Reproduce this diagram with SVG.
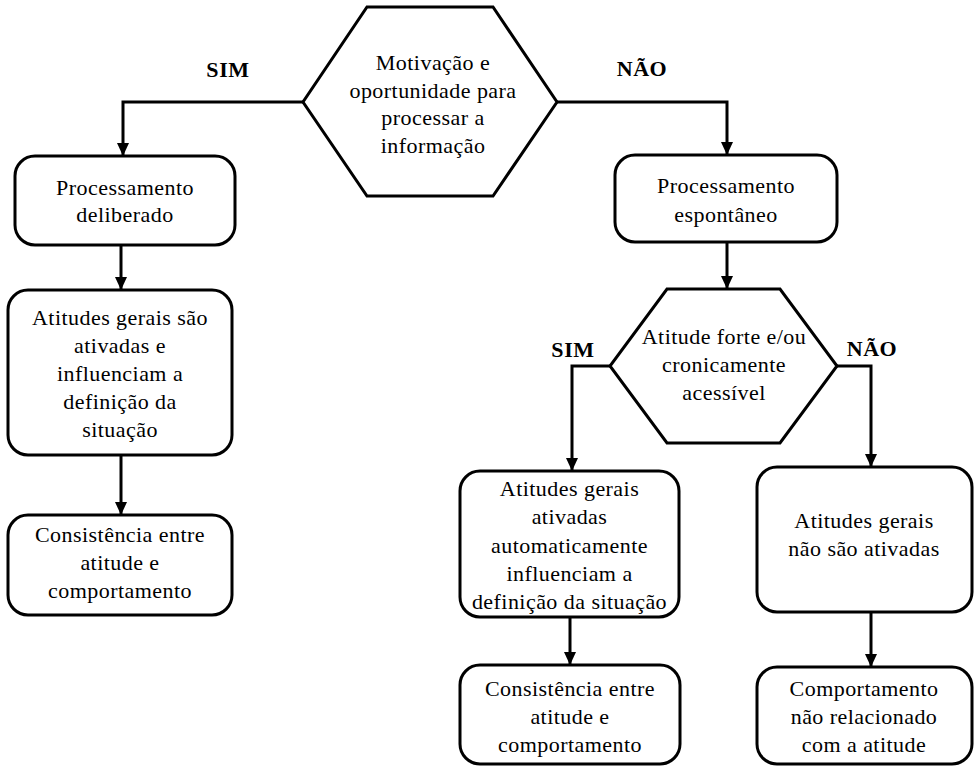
<svg xmlns="http://www.w3.org/2000/svg" width="979" height="767" viewBox="0 0 979 767">
  <defs>
    <marker id="arrow" markerUnits="userSpaceOnUse" markerWidth="14" markerHeight="12" refX="13" refY="6" orient="auto">
      <path d="M0,0 L13,6 L0,12 z" fill="#000"/>
    </marker>
    <style>
      .shape { fill: #fff; stroke: #000; stroke-width: 3; }
      .link { fill: none; stroke: #000; stroke-width: 3; marker-end: url(#arrow); }
      .txt { font-family: "Liberation Serif", "Times New Roman", serif; font-size: 22px; letter-spacing: 0.45px; fill: #000; text-anchor: middle; }
      .lbl { font-family: "Liberation Serif", "Times New Roman", serif; font-size: 22px; font-weight: bold; letter-spacing: 0.6px; fill: #000; text-anchor: middle; }
    </style>
  </defs>
  <rect width="979" height="767" fill="#fff"/>

  <!-- connectors -->
  <g id="connectors">
    <path class="link" d="M303,102 H123 V156"/>
    <path class="link" d="M557,102 H727 V155"/>
    <path class="link" d="M121,245 V290"/>
    <path class="link" d="M121,455 V515"/>
    <path class="link" d="M727,242 V289"/>
    <path class="link" d="M610,366 H572 V471"/>
    <path class="link" d="M837,366 H871 V467"/>
    <path class="link" d="M570,617 V665"/>
    <path class="link" d="M871,612 V667"/>
  </g>

  <!-- branch labels -->
  <g id="labels">
    <text class="lbl" x="228" y="77">SIM</text>
    <text class="lbl" x="642" y="76">NÃO</text>
    <text class="lbl" x="573" y="357">SIM</text>
    <text class="lbl" x="872" y="356">NÃO</text>
  </g>

  <!-- decision: motivation and opportunity -->
  <g id="decision-motivation">
    <polygon class="shape" points="367,7 493,7 557,102 493,196 367,196 303,102"/>
    <text class="txt" x="433" y="70">Motivação e</text>
    <text class="txt" x="433" y="97.5">oportunidade para</text>
    <text class="txt" x="433" y="125">processar a</text>
    <text class="txt" x="433" y="152.5">informação</text>
  </g>

  <!-- left branch -->
  <g id="deliberate-processing">
    <rect class="shape" x="15" y="156" width="220" height="89" rx="20"/>
    <text class="txt" x="125" y="195">Processamento</text>
    <text class="txt" x="125" y="222">deliberado</text>
  </g>
  <g id="attitudes-activated">
    <rect class="shape" x="8" y="290" width="224" height="165" rx="20"/>
    <text class="txt" x="120" y="325">Atitudes gerais são</text>
    <text class="txt" x="120" y="353">ativadas e</text>
    <text class="txt" x="120" y="381">influenciam a</text>
    <text class="txt" x="120" y="409">definição da</text>
    <text class="txt" x="120" y="437">situação</text>
  </g>
  <g id="consistency-left">
    <rect class="shape" x="8" y="515" width="224" height="100" rx="20"/>
    <text class="txt" x="120" y="542">Consistência entre</text>
    <text class="txt" x="120" y="570">atitude e</text>
    <text class="txt" x="120" y="598">comportamento</text>
  </g>

  <!-- right branch -->
  <g id="spontaneous-processing">
    <rect class="shape" x="615" y="155" width="222" height="87" rx="20"/>
    <text class="txt" x="726" y="193">Processamento</text>
    <text class="txt" x="726" y="222">espontâneo</text>
  </g>
  <g id="decision-strength">
    <polygon class="shape" points="667,289 780,289 837,366 780,443 667,443 610,366"/>
    <text class="txt" x="724" y="344">Atitude forte e/ou</text>
    <text class="txt" x="724" y="372">cronicamente</text>
    <text class="txt" x="724" y="400">acessível</text>
  </g>
  <g id="attitudes-automatic">
    <rect class="shape" x="460" y="471" width="219" height="146" rx="20"/>
    <text class="txt" x="569.5" y="496">Atitudes gerais</text>
    <text class="txt" x="569.5" y="524">ativadas</text>
    <text class="txt" x="569.5" y="553">automaticamente</text>
    <text class="txt" x="569.5" y="581">influenciam a</text>
    <text class="txt" x="569.5" y="609">definição da situação</text>
  </g>
  <g id="attitudes-not-activated">
    <rect class="shape" x="757" y="467" width="215" height="145" rx="20"/>
    <text class="txt" x="864" y="528">Atitudes gerais</text>
    <text class="txt" x="864" y="556">não são ativadas</text>
  </g>
  <g id="consistency-right">
    <rect class="shape" x="460" y="665" width="220" height="99" rx="20"/>
    <text class="txt" x="570" y="696">Consistência entre</text>
    <text class="txt" x="570" y="724">atitude e</text>
    <text class="txt" x="570" y="752">comportamento</text>
  </g>
  <g id="behaviour-unrelated">
    <rect class="shape" x="757" y="667" width="215" height="97" rx="20"/>
    <text class="txt" x="864" y="696">Comportamento</text>
    <text class="txt" x="864" y="724">não relacionado</text>
    <text class="txt" x="864" y="752">com a atitude</text>
  </g>
</svg>
